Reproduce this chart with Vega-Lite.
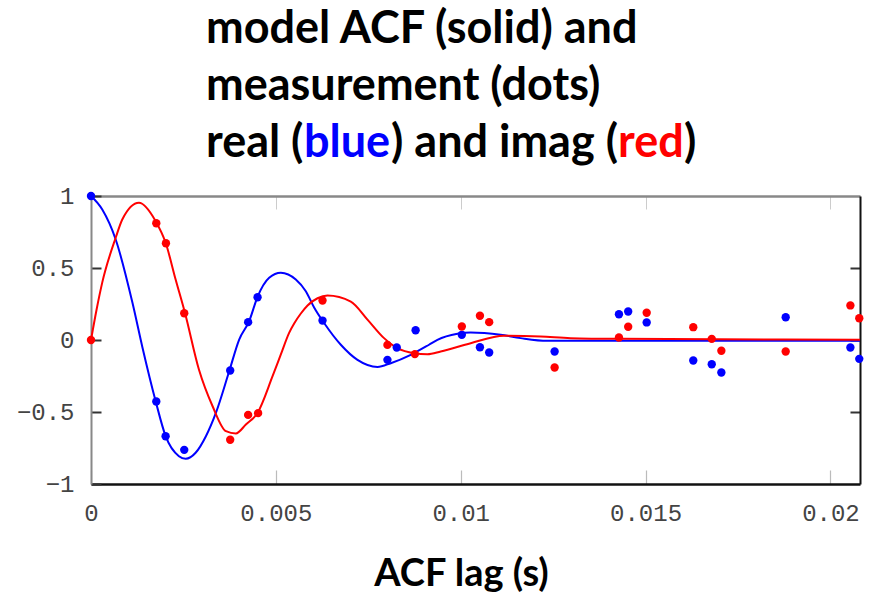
{
  "$schema": "https://vega.github.io/schema/vega-lite/v6.json",
  "background": "white",
  "padding": {"left": 16, "top": 6, "right": 0, "bottom": 0},
  "spacing": 0,
  "config": {
    "view": {"stroke": null},
    "title": {"font": "Lato", "fontWeight": "bold", "fontSize": 45, "color": "black", "anchor": "start", "offset": 0, "lineHeight": 57.5, "baseline": "alphabetic"}
  },
  "datasets": {
    "blank": [],
    "curve": [
      {"part": "real", "lag": 0, "value": 1.0},
      {"part": "real", "lag": 0.000305, "value": 0.906},
      {"part": "real", "lag": 0.000668, "value": 0.698},
      {"part": "real", "lag": 0.00112, "value": 0.26},
      {"part": "real", "lag": 0.00139, "value": -0.05},
      {"part": "real", "lag": 0.001749, "value": -0.425},
      {"part": "real", "lag": 0.002019, "value": -0.668},
      {"part": "real", "lag": 0.002378, "value": -0.807},
      {"part": "real", "lag": 0.00256, "value": -0.825},
      {"part": "real", "lag": 0.00283, "value": -0.783},
      {"part": "real", "lag": 0.003108, "value": -0.668},
      {"part": "real", "lag": 0.003378, "value": -0.506},
      {"part": "real", "lag": 0.003738, "value": -0.217},
      {"part": "real", "lag": 0.004008, "value": 0.003},
      {"part": "real", "lag": 0.004278, "value": 0.131},
      {"part": "real", "lag": 0.004505, "value": 0.3},
      {"part": "real", "lag": 0.004819, "value": 0.432},
      {"part": "real", "lag": 0.005135, "value": 0.467},
      {"part": "real", "lag": 0.00554, "value": 0.42},
      {"part": "real", "lag": 0.00581, "value": 0.339},
      {"part": "real", "lag": 0.006035, "value": 0.226},
      {"part": "real", "lag": 0.006305, "value": 0.118},
      {"part": "real", "lag": 0.006757, "value": -0.033},
      {"part": "real", "lag": 0.007208, "value": -0.138},
      {"part": "real", "lag": 0.007749, "value": -0.187},
      {"part": "real", "lag": 0.008108, "value": -0.161},
      {"part": "real", "lag": 0.008649, "value": -0.103},
      {"part": "real", "lag": 0.009143, "value": -0.033},
      {"part": "real", "lag": 0.00937, "value": 0.001},
      {"part": "real", "lag": 0.00991, "value": 0.043},
      {"part": "real", "lag": 0.01027, "value": 0.052},
      {"part": "real", "lag": 0.01108, "value": 0.036},
      {"part": "real", "lag": 0.01162, "value": 0.013},
      {"part": "real", "lag": 0.01234, "value": -0.006},
      {"part": "real", "lag": 0.01432, "value": -0.006},
      {"part": "real", "lag": 0.0208, "value": -0.006},
      {"part": "imag", "lag": 0, "value": 0},
      {"part": "imag", "lag": 0.00015, "value": 0.21},
      {"part": "imag", "lag": 0.000305, "value": 0.4},
      {"part": "imag", "lag": 0.000668, "value": 0.71},
      {"part": "imag", "lag": 0.000846, "value": 0.837},
      {"part": "imag", "lag": 0.001297, "value": 0.953},
      {"part": "imag", "lag": 0.001749, "value": 0.825},
      {"part": "imag", "lag": 0.002019, "value": 0.675},
      {"part": "imag", "lag": 0.002289, "value": 0.42},
      {"part": "imag", "lag": 0.002541, "value": 0.189},
      {"part": "imag", "lag": 0.002919, "value": -0.205},
      {"part": "imag", "lag": 0.003289, "value": -0.46},
      {"part": "imag", "lag": 0.003649, "value": -0.633},
      {"part": "imag", "lag": 0.003919, "value": -0.649},
      {"part": "imag", "lag": 0.004189, "value": -0.587},
      {"part": "imag", "lag": 0.004505, "value": -0.506},
      {"part": "imag", "lag": 0.004911, "value": -0.251},
      {"part": "imag", "lag": 0.005135, "value": -0.1},
      {"part": "imag", "lag": 0.005359, "value": 0.05},
      {"part": "imag", "lag": 0.005495, "value": 0.115},
      {"part": "imag", "lag": 0.005676, "value": 0.184},
      {"part": "imag", "lag": 0.005857, "value": 0.24},
      {"part": "imag", "lag": 0.006127, "value": 0.29},
      {"part": "imag", "lag": 0.006397, "value": 0.309},
      {"part": "imag", "lag": 0.007027, "value": 0.267},
      {"part": "imag", "lag": 0.007478, "value": 0.142},
      {"part": "imag", "lag": 0.007927, "value": 0.013},
      {"part": "imag", "lag": 0.008289, "value": -0.057},
      {"part": "imag", "lag": 0.008738, "value": -0.092},
      {"part": "imag", "lag": 0.0091, "value": -0.099},
      {"part": "imag", "lag": 0.00946, "value": -0.08},
      {"part": "imag", "lag": 0.01027, "value": -0.022},
      {"part": "imag", "lag": 0.01117, "value": 0.029},
      {"part": "imag", "lag": 0.01216, "value": 0.024},
      {"part": "imag", "lag": 0.01297, "value": 0.013},
      {"part": "imag", "lag": 0.01432, "value": 0.008},
      {"part": "imag", "lag": 0.0208, "value": 0.002}
    ],
    "meas": [
      {"part": "real", "lag": 0, "value": 1.0},
      {"part": "real", "lag": 0.001766, "value": -0.427},
      {"part": "real", "lag": 0.002018, "value": -0.668},
      {"part": "real", "lag": 0.002522, "value": -0.763},
      {"part": "real", "lag": 0.003765, "value": -0.212},
      {"part": "real", "lag": 0.00425, "value": 0.124},
      {"part": "real", "lag": 0.004505, "value": 0.297},
      {"part": "real", "lag": 0.006262, "value": 0.135},
      {"part": "real", "lag": 0.008018, "value": -0.138},
      {"part": "real", "lag": 0.00827, "value": -0.052},
      {"part": "real", "lag": 0.00878, "value": 0.068},
      {"part": "real", "lag": 0.01003, "value": 0.036},
      {"part": "real", "lag": 0.01052, "value": -0.05},
      {"part": "real", "lag": 0.01077, "value": -0.087},
      {"part": "real", "lag": 0.01254, "value": -0.08},
      {"part": "real", "lag": 0.01428, "value": 0.179},
      {"part": "real", "lag": 0.01453, "value": 0.198},
      {"part": "real", "lag": 0.01503, "value": 0.122},
      {"part": "real", "lag": 0.01629, "value": -0.142},
      {"part": "real", "lag": 0.01679, "value": -0.168},
      {"part": "real", "lag": 0.01705, "value": -0.226},
      {"part": "real", "lag": 0.01879, "value": 0.158},
      {"part": "real", "lag": 0.02054, "value": -0.052},
      {"part": "real", "lag": 0.02078, "value": -0.131},
      {"part": "imag", "lag": 0, "value": 0},
      {"part": "imag", "lag": 0.001766, "value": 0.811},
      {"part": "imag", "lag": 0.002027, "value": 0.672},
      {"part": "imag", "lag": 0.002522, "value": 0.186},
      {"part": "imag", "lag": 0.003765, "value": -0.693},
      {"part": "imag", "lag": 0.00425, "value": -0.52},
      {"part": "imag", "lag": 0.00452, "value": -0.508},
      {"part": "imag", "lag": 0.006262, "value": 0.274},
      {"part": "imag", "lag": 0.008018, "value": -0.034},
      {"part": "imag", "lag": 0.00876, "value": -0.098},
      {"part": "imag", "lag": 0.01003, "value": 0.094},
      {"part": "imag", "lag": 0.01052, "value": 0.168},
      {"part": "imag", "lag": 0.01077, "value": 0.124},
      {"part": "imag", "lag": 0.01254, "value": -0.191},
      {"part": "imag", "lag": 0.01428, "value": 0.017},
      {"part": "imag", "lag": 0.01453, "value": 0.092},
      {"part": "imag", "lag": 0.01503, "value": 0.189},
      {"part": "imag", "lag": 0.01629, "value": 0.089},
      {"part": "imag", "lag": 0.01679, "value": 0.008},
      {"part": "imag", "lag": 0.01705, "value": -0.075},
      {"part": "imag", "lag": 0.01879, "value": -0.08},
      {"part": "imag", "lag": 0.02054, "value": 0.24},
      {"part": "imag", "lag": 0.02078, "value": 0.151}
    ]
  },
  "vconcat": [
    {
      "data": {"name": "blank"},
      "width": 1, "height": 8,
      "mark": {"type": "point", "opacity": 0},
      "title": {"text": ["model ACF (solid) and", "measurement (dots)"], "dx": 115}
    },
    {
      "spacing": 0,
      "hconcat": [
        {"data": {"name": "blank"}, "width": 1, "height": 13.5, "mark": {"type": "point", "opacity": 0}, "title": {"text": "real\u00a0(", "dx": 115}},
        {"data": {"name": "blank"}, "width": 1, "height": 13.5, "mark": {"type": "point", "opacity": 0}, "title": {"text": "blue", "color": "#0000ff"}},
        {"data": {"name": "blank"}, "width": 1, "height": 13.5, "mark": {"type": "point", "opacity": 0}, "title": {"text": ")\u00a0and\u00a0imag\u00a0("}},
        {"data": {"name": "blank"}, "width": 1, "height": 13.5, "mark": {"type": "point", "opacity": 0}, "title": {"text": "red", "color": "#ff0000"}},
        {"data": {"name": "blank"}, "width": 1, "height": 13.5, "mark": {"type": "point", "opacity": 0}, "title": {"text": ")"}}
      ]
    },
    {
      "width": 769,
      "height": 288,
      "layer": [
        {
          "data": {"name": "curve"},
          "mark": {"type": "line", "strokeWidth": 2, "interpolate": "monotone"},
          "encoding": {
            "x": {"field": "lag", "type": "quantitative",
              "scale": {"domain": [0, 0.0208], "nice": false, "zero": false},
              "axis": {"orient": "bottom", "values": [0, 0.005, 0.01, 0.015, 0.02], "format": "~g", "grid": false, "labelFlush": false,
                "domainColor": "#111", "domainWidth": 2.5, "tickColor": "#bbbbbb", "tickSize": -14, "tickWidth": 1.2,
                "labelFont": "Liberation Mono", "labelFontSize": 24, "labelColor": "#444", "labelPadding": 31, "labelBaseline": "top",
                "title": "ACF lag (s)", "titleFont": "Lato", "titleFontWeight": "bold", "titleFontSize": 38, "titleColor": "black",
                "titleX": 370, "titleY": 101.5, "titleBaseline": "alphabetic", "titleAlign": "center"}},
            "y": {"field": "value", "type": "quantitative",
              "scale": {"domain": [-1, 1], "nice": false, "zero": false},
              "axis": {"orient": "left", "values": [-1, -0.5, 0, 0.5, 1], "format": "~g", "grid": false, "labelFlush": false,
                "domainColor": "#888", "domainWidth": 2, "tickColor": "#333", "tickSize": -10, "tickWidth": 2,
                "labelFont": "Liberation Mono", "labelFontSize": 24, "labelColor": "#444", "labelPadding": 27, "title": null}},
            "color": {"field": "part", "type": "nominal", "scale": {"domain": ["real", "imag"], "range": ["#0000ff", "#ff0000"]}, "legend": null}
          }
        },
        {
          "data": {"name": "meas"},
          "mark": {"type": "circle", "size": 70, "opacity": 1},
          "encoding": {
            "x": {"field": "lag", "type": "quantitative",
              "axis": {"orient": "top", "values": [0.005, 0.01, 0.015, 0.02], "labels": false, "grid": false, "title": null,
                "domainColor": "#888", "domainWidth": 2.5, "tickColor": "#cccccc", "tickSize": -13, "tickWidth": 1}},
            "y": {"field": "value", "type": "quantitative",
              "axis": {"orient": "right", "values": [-0.5, 0, 0.5], "labels": false, "grid": false, "title": null,
                "domainColor": "#111", "domainWidth": 2, "tickColor": "#333", "tickSize": -10, "tickWidth": 2}},
            "color": {"field": "part", "type": "nominal", "legend": null}
          }
        }
      ],
      "resolve": {"axis": {"x": "independent", "y": "independent"}}
    }
  ]
}
